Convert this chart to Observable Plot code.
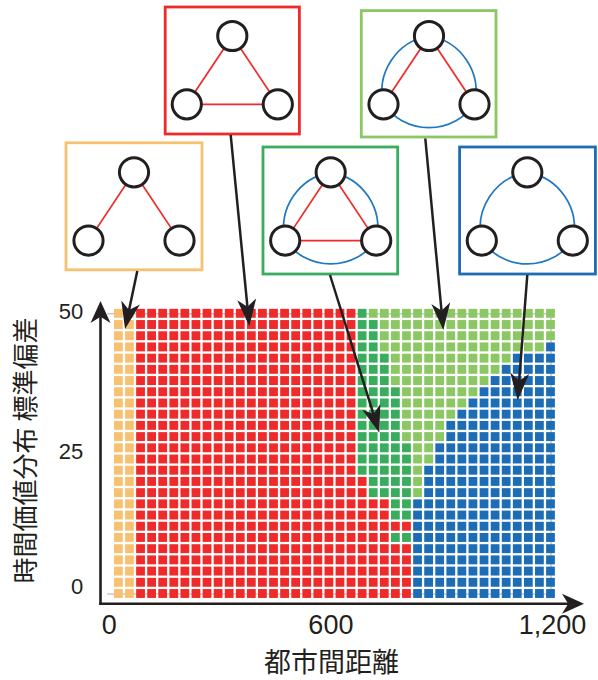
<!DOCTYPE html>
<html><head><meta charset="utf-8">
<script src="https://cdn.jsdelivr.net/npm/d3@7"></script>
<script src="https://cdn.jsdelivr.net/npm/@observablehq/plot@0.6"></script>
<style>
  body { margin: 0; background: #fff; }
  #chart { width: 598px; height: 680px; }
</style>
</head>
<body>
<div id="chart"></div>
<script>
// ---------- data ----------
const xValues = [30,60,90,120,150,180,210,240,270,300,330,360,390,420,450,480,510,540,570,600,
                 630,660,690,720,750,780,810,840,870,900,930,960,990,1020,1050,1080,1110,1140,1170,1200];
const yValues = [50,48,46,44,42,40,38,36,34,32,30,28,26,24,22,20,18,16,14,12,10,8,6,4,2,0];
// run lengths per row (left to right): [orange, red, darkGreen, lightGreen, blue]
const rowRuns = [
  [2,20,1,17,0],  // 50
  [2,20,2,16,0],  // 48
  [2,20,2,16,0],  // 46
  [2,20,2,15,1],  // 44
  [2,20,3,11,4],  // 42
  [2,20,3,10,5],  // 40
  [2,20,3,9,6],   // 38
  [2,20,4,7,7],   // 36
  [2,20,4,6,8],   // 34
  [2,20,4,5,9],   // 32
  [2,20,4,4,10],  // 30
  [2,20,4,4,10],  // 28
  [2,20,5,2,11],  // 26
  [2,20,5,2,11],  // 24
  [2,20,5,1,12],  // 22
  [2,21,4,1,12],  // 20
  [2,21,4,1,12],  // 18
  [2,23,2,0,13],  // 16
  [2,23,2,0,13],  // 14
  [2,25,0,0,13],  // 12
  [2,23,2,0,13],  // 10
  [2,25,0,0,13],  // 8
  [2,25,0,0,13],  // 6
  [2,25,0,0,13],  // 4
  [2,25,0,0,13],  // 2
  [2,25,0,0,13]   // 0
];
const classCodes = ["O","R","D","L","B"];
const classColors = ["#f8c171","#ee2a2a","#39ad5d","#8bc863","#1c6db5"];
const xTicks = [0,600,1200];
const yTicks = [0,25,50];
const xTitle = "都市間距離";
const yTitle = "時間価値分布 標準偏差";

// annotation insets: which edges are drawn
const insets = [
  {color:"#f8c171", box:[66,142.8,136,127], top:[134,172.3], red:["tl","tr"], blue:[], start:[137.3,271], target:[48,47.2]},
  {color:"#ee2a2a", box:[165.2,7,134.2,127], top:[232.3,36],  red:["tl","tr","lr"], blue:[], start:[230.7,135], target:[384.5,47.7]},
  {color:"#39ad5d", box:[263,147,134.7,127], top:[330.7,172.3], red:["tl","tr","lr"], blue:["tl","tr","lr"], start:[330,275], target:[736.5,28.7]},
  {color:"#8bc863", box:[361.3,10.6,134.7,126.4], top:[429,36], red:["tl","tr"], blue:["tl","tr","lr"], start:[425.3,138.5], target:[909.8,47.0]},
  {color:"#1c6db5", box:[459.6,147,135.8,127], top:[527.3,172.3], red:[], blue:["tl","tr","lr"], start:[527.3,275], target:[1111,34.5]}
];

// ---------- build cells ----------
const cells = [];
yValues.forEach((y, i) => {
  let col = 0;
  rowRuns[i].forEach((n, k) => {
    for (let t = 0; t < n; ++t) { cells.push({x: xValues[col], y, cls: classCodes[k]}); col++; }
  });
  if (col !== xValues.length) throw new Error("row " + y + " has " + col + " cells");
});

const W = 598, H = 680;
const mL = 107.3, mR = 47.5, mT = 313.3, mB = 86.5;
const ink = "#231f20";
const latin = "'Liberation Sans', Arial, Helvetica, sans-serif";
const cjk = "'Noto Sans CJK JP', 'Noto Sans CJK SC', sans-serif";

const chart = Plot.plot({
  width: W, height: H,
  marginLeft: mL, marginRight: mR, marginTop: mT, marginBottom: mB,
  x: {domain: [0, 1200]},
  y: {domain: [0, 50]},
  color: {domain: classCodes, range: classColors},
  style: {fontFamily: latin, color: ink, background: "#fff", overflow: "visible"},
  marks: [
    Plot.ruleY([0, 50], {stroke: "#c8c8c8", strokeWidth: 1.6}),
    Plot.ruleX([1200], {stroke: "#c8c8c8", strokeWidth: 1.6}),
    Plot.rect(cells, {
      x1: d => d.x - 15, x2: d => d.x + 15,
      y1: d => d.y - 1, y2: d => d.y + 1,
      fill: "cls", inset: 1.15
    }),
    Plot.axisX(xTicks, {tickSize: 0, tickPadding: 21, fontSize: 27, dx: 1.5, tickFormat: d3.format(","), label: null, fill: ink}),
    Plot.axisY([yTicks[0]], {tickSize: 0, tickPadding: 24.5, fontSize: 22, dy: -7, label: null, fill: ink}),
    Plot.axisY(yTicks.slice(1), {tickSize: 0, tickPadding: 24.5, fontSize: 22, dy: -2, label: null, fill: ink}),
    Plot.text([xTitle], {frameAnchor: "bottom", textAnchor: "middle", lineAnchor: "middle", dx: 2, dy: 69.5, fontSize: 27, fontFamily: cjk, fill: ink}),
    Plot.text([yTitle], {frameAnchor: "left", textAnchor: "middle", lineAnchor: "middle", dx: -81.3, dy: -3.4, rotate: -90, fontSize: 26, fontFamily: cjk, fill: ink})
  ]
});
document.getElementById("chart").appendChild(chart);

// ---------- overlay: axis arrows, insets, pointer arrows ----------
const sx = chart.scale("x"), sy = chart.scale("y");
const svg = d3.select(chart);
const g = svg.append("g");

function head(tx, ty, fx, fy, L, w) {
  const dx = tx - fx, dy = ty - fy, len = Math.hypot(dx, dy);
  const ux = dx / len, uy = dy / len, nx = -uy, ny = ux;
  const bx = tx - L * ux, by = ty - L * uy;
  const mx = tx - 0.72 * L * ux, my = ty - 0.72 * L * uy;
  return {
    path: `M${tx},${ty}L${bx + nx * w / 2},${by + ny * w / 2}L${mx},${my}L${bx - nx * w / 2},${by - ny * w / 2}Z`,
    mx, my
  };
}
function arrow(fx, fy, tx, ty, L, w, sw) {
  const h = head(tx, ty, fx, fy, L, w);
  g.append("line").attr("x1", fx).attr("y1", fy).attr("x2", h.mx).attr("y2", h.my)
    .attr("stroke", ink).attr("stroke-width", sw);
  g.append("path").attr("d", h.path).attr("fill", ink);
}

// axes
const ax0 = sx.apply(0) - 6.8, ay0 = sy.apply(0) + 10.2;
arrow(ax0 - 1.2, ay0, sx.apply(1200) + 33.5, ay0, 22, 20, 2.6);
arrow(ax0, ay0 + 1.2, ax0, sy.apply(50) - 12.3, 22, 20, 2.6);

// insets
const R = 14.6, ARC = 56;
insets.forEach(ins => {
  const [bx, by, bw, bh] = ins.box;
  g.append("rect").attr("x", bx).attr("y", by).attr("width", bw).attr("height", bh)
    .attr("fill", "#fff").attr("stroke", ins.color).attr("stroke-width", 2.8);
  const T = ins.top, BL = [T[0] - 45.5, T[1] + 68.3], BR = [T[0] + 45.5, T[1] + 68.3];
  const pts = {tl: [T, BL], tr: [T, BR], lr: [BL, BR]};
  const arcs = {tr: [T, BR], lr: [BR, BL], tl: [BL, T]};
  ins.blue.forEach(k => {
    const [a, b] = arcs[k];
    g.append("path").attr("d", `M${a[0]},${a[1]}A${ARC},${ARC} 0 0 1 ${b[0]},${b[1]}`)
      .attr("fill", "none").attr("stroke", "#1f78c1").attr("stroke-width", 1.7);
  });
  ins.red.forEach(k => {
    const [a, b] = pts[k];
    g.append("line").attr("x1", a[0]).attr("y1", a[1]).attr("x2", b[0]).attr("y2", b[1])
      .attr("stroke", "#ee2a2a").attr("stroke-width", 1.7);
  });
  [T, BL, BR].forEach(p => {
    g.append("circle").attr("cx", p[0]).attr("cy", p[1]).attr("r", R)
      .attr("fill", "#fff").attr("stroke", ink).attr("stroke-width", 3);
  });
});

// pointer arrows (drawn last, on top of the cells)
insets.forEach(ins => {
  arrow(ins.start[0], ins.start[1], sx.apply(ins.target[0]), sy.apply(ins.target[1]), 27, 19, 2.5);
});
</script>
</body></html>
